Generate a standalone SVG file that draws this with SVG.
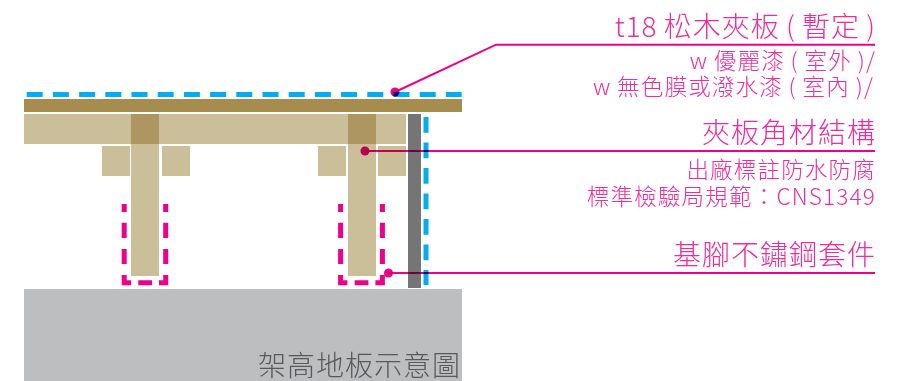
<svg xmlns="http://www.w3.org/2000/svg" width="905" height="381" viewBox="0 0 905 381">
<style>
text{font-family:"Noto Sans CJK TC","Noto Sans",sans-serif;font-weight:300;text-anchor:end}
.lg{font-size:28px;letter-spacing:1px;word-spacing:-1px}
.sm{font-size:22.5px;letter-spacing:1.2px;word-spacing:-0.5px}
.pk{fill:#EC2E9B}
.beam{fill:#CBBF99}
.blue{fill:none;stroke:#00AEEF;stroke-width:5}
.pdash{fill:none;stroke:#EC008C;stroke-width:5}
.lead{fill:none;stroke:#EC008C;stroke-width:2;mix-blend-mode:multiply}
.dot{fill:#EC008C;mix-blend-mode:multiply}
</style>
<g id="ground"><rect x="24" y="289" width="438" height="92" fill="#BCBEC0"/><text x="461" y="376" class="lg" fill="#58595B">架高地板示意圖</text></g>
<g id="plank"><rect x="24" y="99" width="438" height="13" fill="#A68C4F"/></g>
<g id="beam"><rect x="24" y="114" width="382" height="30" class="beam"/></g>
<g id="post-left">
<rect x="131" y="144" width="28" height="132" class="beam"/>
<rect x="131" y="114" width="28" height="30" fill="#AD9660"/>
<rect x="102" y="146" width="28" height="30" class="beam"/>
<rect x="162" y="146" width="28" height="30" class="beam"/>
</g>
<g id="post-right">
<rect x="348" y="144" width="28" height="132" class="beam"/>
<rect x="348" y="114" width="28" height="30" fill="#AD9660"/>
<rect x="318" y="146" width="28" height="30" class="beam"/>
<rect x="378" y="146" width="28" height="30" class="beam"/>
</g>
<g id="column"><rect x="408" y="114" width="13" height="174" fill="#757575"/></g>
<g id="membrane">
<path class="blue" d="M26.7 94.4H461.7" stroke-dasharray="16 10.2"/>
<path class="blue" d="M426 117V285" stroke-dasharray="15.7 9.8"/>
</g>
<g id="sleeve-left"><path class="pdash" d="M124.2 204V212M124.2 222.7V238M124.2 249V264M124.2 275V282.7H131M138.3 282.7H152M159 282.7H165.7V275M165.7 264V249M165.7 238V222.7M165.7 212V204"/></g>
<g id="sleeve-right"><path class="pdash" d="M340.6 204V212M340.6 222.7V238M340.6 249V264M340.6 275V282.7H347.4M354.7 282.7H368.4M375.4 282.7H382.4V275M382.4 264V249M382.4 238V222.7M382.4 212V204"/></g>
<g id="connectors">
<path class="lead" d="M395 92L496 44.7H875"/>
<circle class="dot" cx="395" cy="92" r="4.5"/>
<path class="lead" d="M365 151H875"/>
<circle class="dot" cx="365" cy="151" r="4.5"/>
<path class="lead" d="M388.5 273H875"/>
<circle class="dot" cx="388.5" cy="273" r="4.5"/>
</g>
<g id="label-plywood">
<text x="876" y="37" class="lg pk">t18 松木夾板 ( 暫定 )</text>
<text x="876" y="69" class="sm pk">w 優麗漆 ( 室外 )/</text>
<text x="874" y="95" class="sm pk">w 無色膜或潑水漆 ( 室內 )/</text>
</g>
<g id="label-joist">
<text x="876" y="143" class="lg pk">夾板角材結構</text>
<text x="876" y="178" class="sm pk">出廠標註防水防腐</text>
<text x="876" y="205" class="sm pk">標準檢驗局規範：CNS1349</text>
</g>
<g id="label-sleeve"><text x="876" y="265" class="lg pk">基腳不鏽鋼套件</text></g>
</svg>
